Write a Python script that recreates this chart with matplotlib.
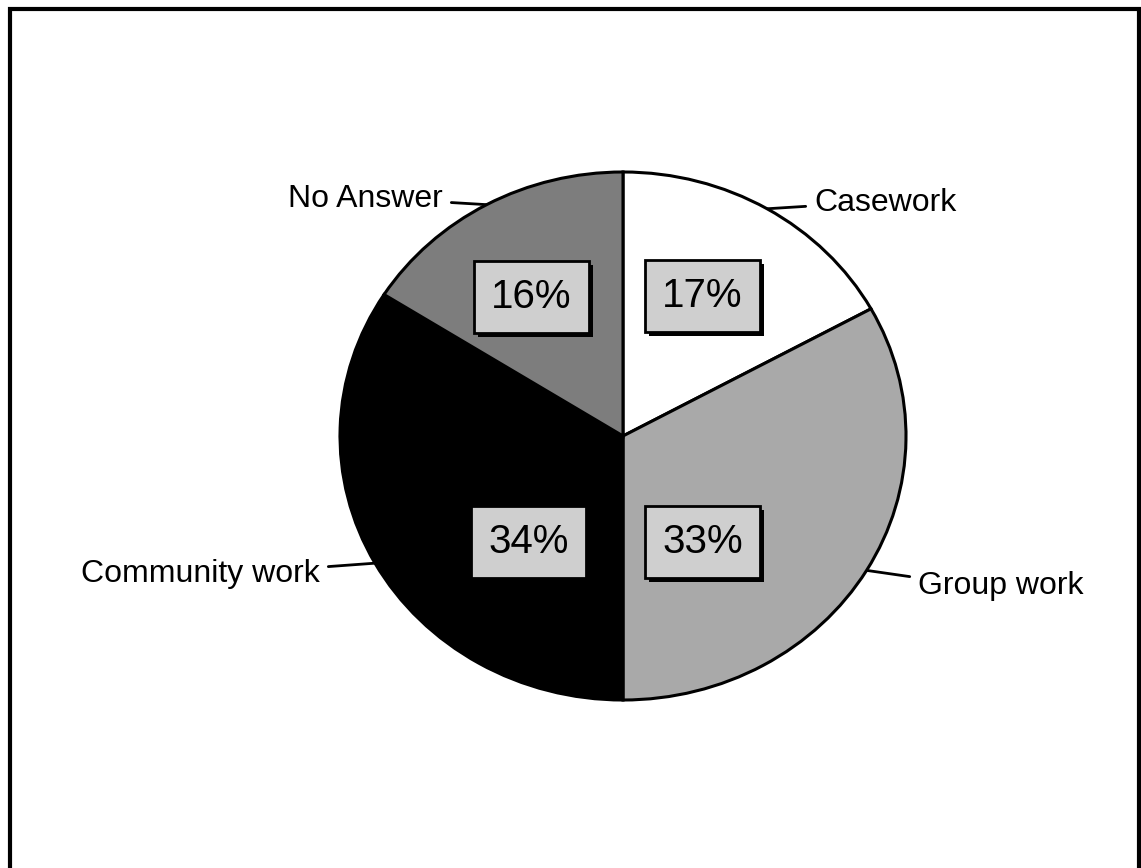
import matplotlib
matplotlib.use("Agg")
import numpy as np
import matplotlib.pyplot as plt
from matplotlib.patches import Rectangle
from matplotlib.transforms import IdentityTransform

plt.rcParams['font.family'] = ['Liberation Sans', 'DejaVu Sans']

# Survey answers: main method of social work
categories = ["Casework", "Group work", "Community work", "No Answer"]
shares = [17, 33, 34, 16]
fills = ["#ffffff", "#a9a9a9", "#000000", "#7d7d7d"]

W, H = 1141, 868
fig = plt.figure(figsize=(W / 100, H / 100), dpi=100)

# full-figure overlay in pixel units for the frame and category labels
over = fig.add_axes([0, 0, 1, 1])
over.set_xlim(0, W)
over.set_ylim(H, 0)
over.axis("off")

# frame (open at the bottom)
over.plot([10, 10, 1138.5, 1138.5], [H + 5, 8.5, 8.5, H + 5], color="black",
          lw=3, solid_joinstyle="miter", zorder=1)

# elliptical pie: axes box with free aspect
left, right, top, bottom = 340, 906, 172, 700
pax = fig.add_axes([left / W, (H - bottom) / H, (right - left) / W, (bottom - top) / H])
wedges, _, autotexts = pax.pie(
    shares, colors=fills, startangle=90, counterclock=False, radius=1,
    autopct="%d%%", pctdistance=0.6,
    wedgeprops=dict(edgecolor="black", linewidth=2.2),
    textprops=dict(fontsize=29, color="black"))
pax.set_aspect("auto")
pax.set_xlim(-1, 1)
pax.set_ylim(-1, 1)
pax.axis("off")

# percentage boxes
pct_pos = [(0.281, 0.53), (0.281, -0.40), (-0.334, -0.40), (-0.323, 0.527)]
for t, (x, y) in zip(autotexts, pct_pos):
    t.set_position((x, y))
    t.set_ha("center")
    t.set_va("center")
    t.set_bbox(dict(boxstyle="square,pad=0.42", facecolor="#cfcfcf",
                    edgecolor="black", linewidth=2))
    t.set_zorder(6)

# category labels with leader lines to the middle of each wedge
label_pos = {
    "Casework": (814, 203, "left", 180),
    "Group work": (918, 586, "left", 180),
    "Community work": (320, 574, "right", 0),
    "No Answer": (443, 199, "right", 0),
}
for w, name in zip(wedges, categories):
    mid = np.deg2rad((w.theta1 + w.theta2) / 2)
    tx, ty, ha, ang = label_pos[name]
    over.annotate(name, xy=(np.cos(mid), np.sin(mid)), xycoords=pax.transData,
                  xytext=(tx, ty), textcoords=over.transData,
                  ha=ha, va="center", fontsize=23, zorder=7,
                  arrowprops=dict(arrowstyle="-", lw=2, color="black",
                                  shrinkA=4, shrinkB=0,
                                  connectionstyle=f"arc,angleA={ang},armA=26,angleB=0,armB=0,rad=4"))

# drop shadows behind the percentage boxes (above the wedges)
fig.canvas.draw()
for t in autotexts:
    bb = t.get_bbox_patch().get_window_extent()
    shadow = Rectangle((bb.x0 + 4, bb.y0 - 4), bb.width, bb.height,
                       facecolor="black", edgecolor="none",
                       transform=IdentityTransform(), zorder=5)
    shadow.set_clip_on(False)
    pax.add_artist(shadow)

fig.savefig("out.png", dpi=100)
